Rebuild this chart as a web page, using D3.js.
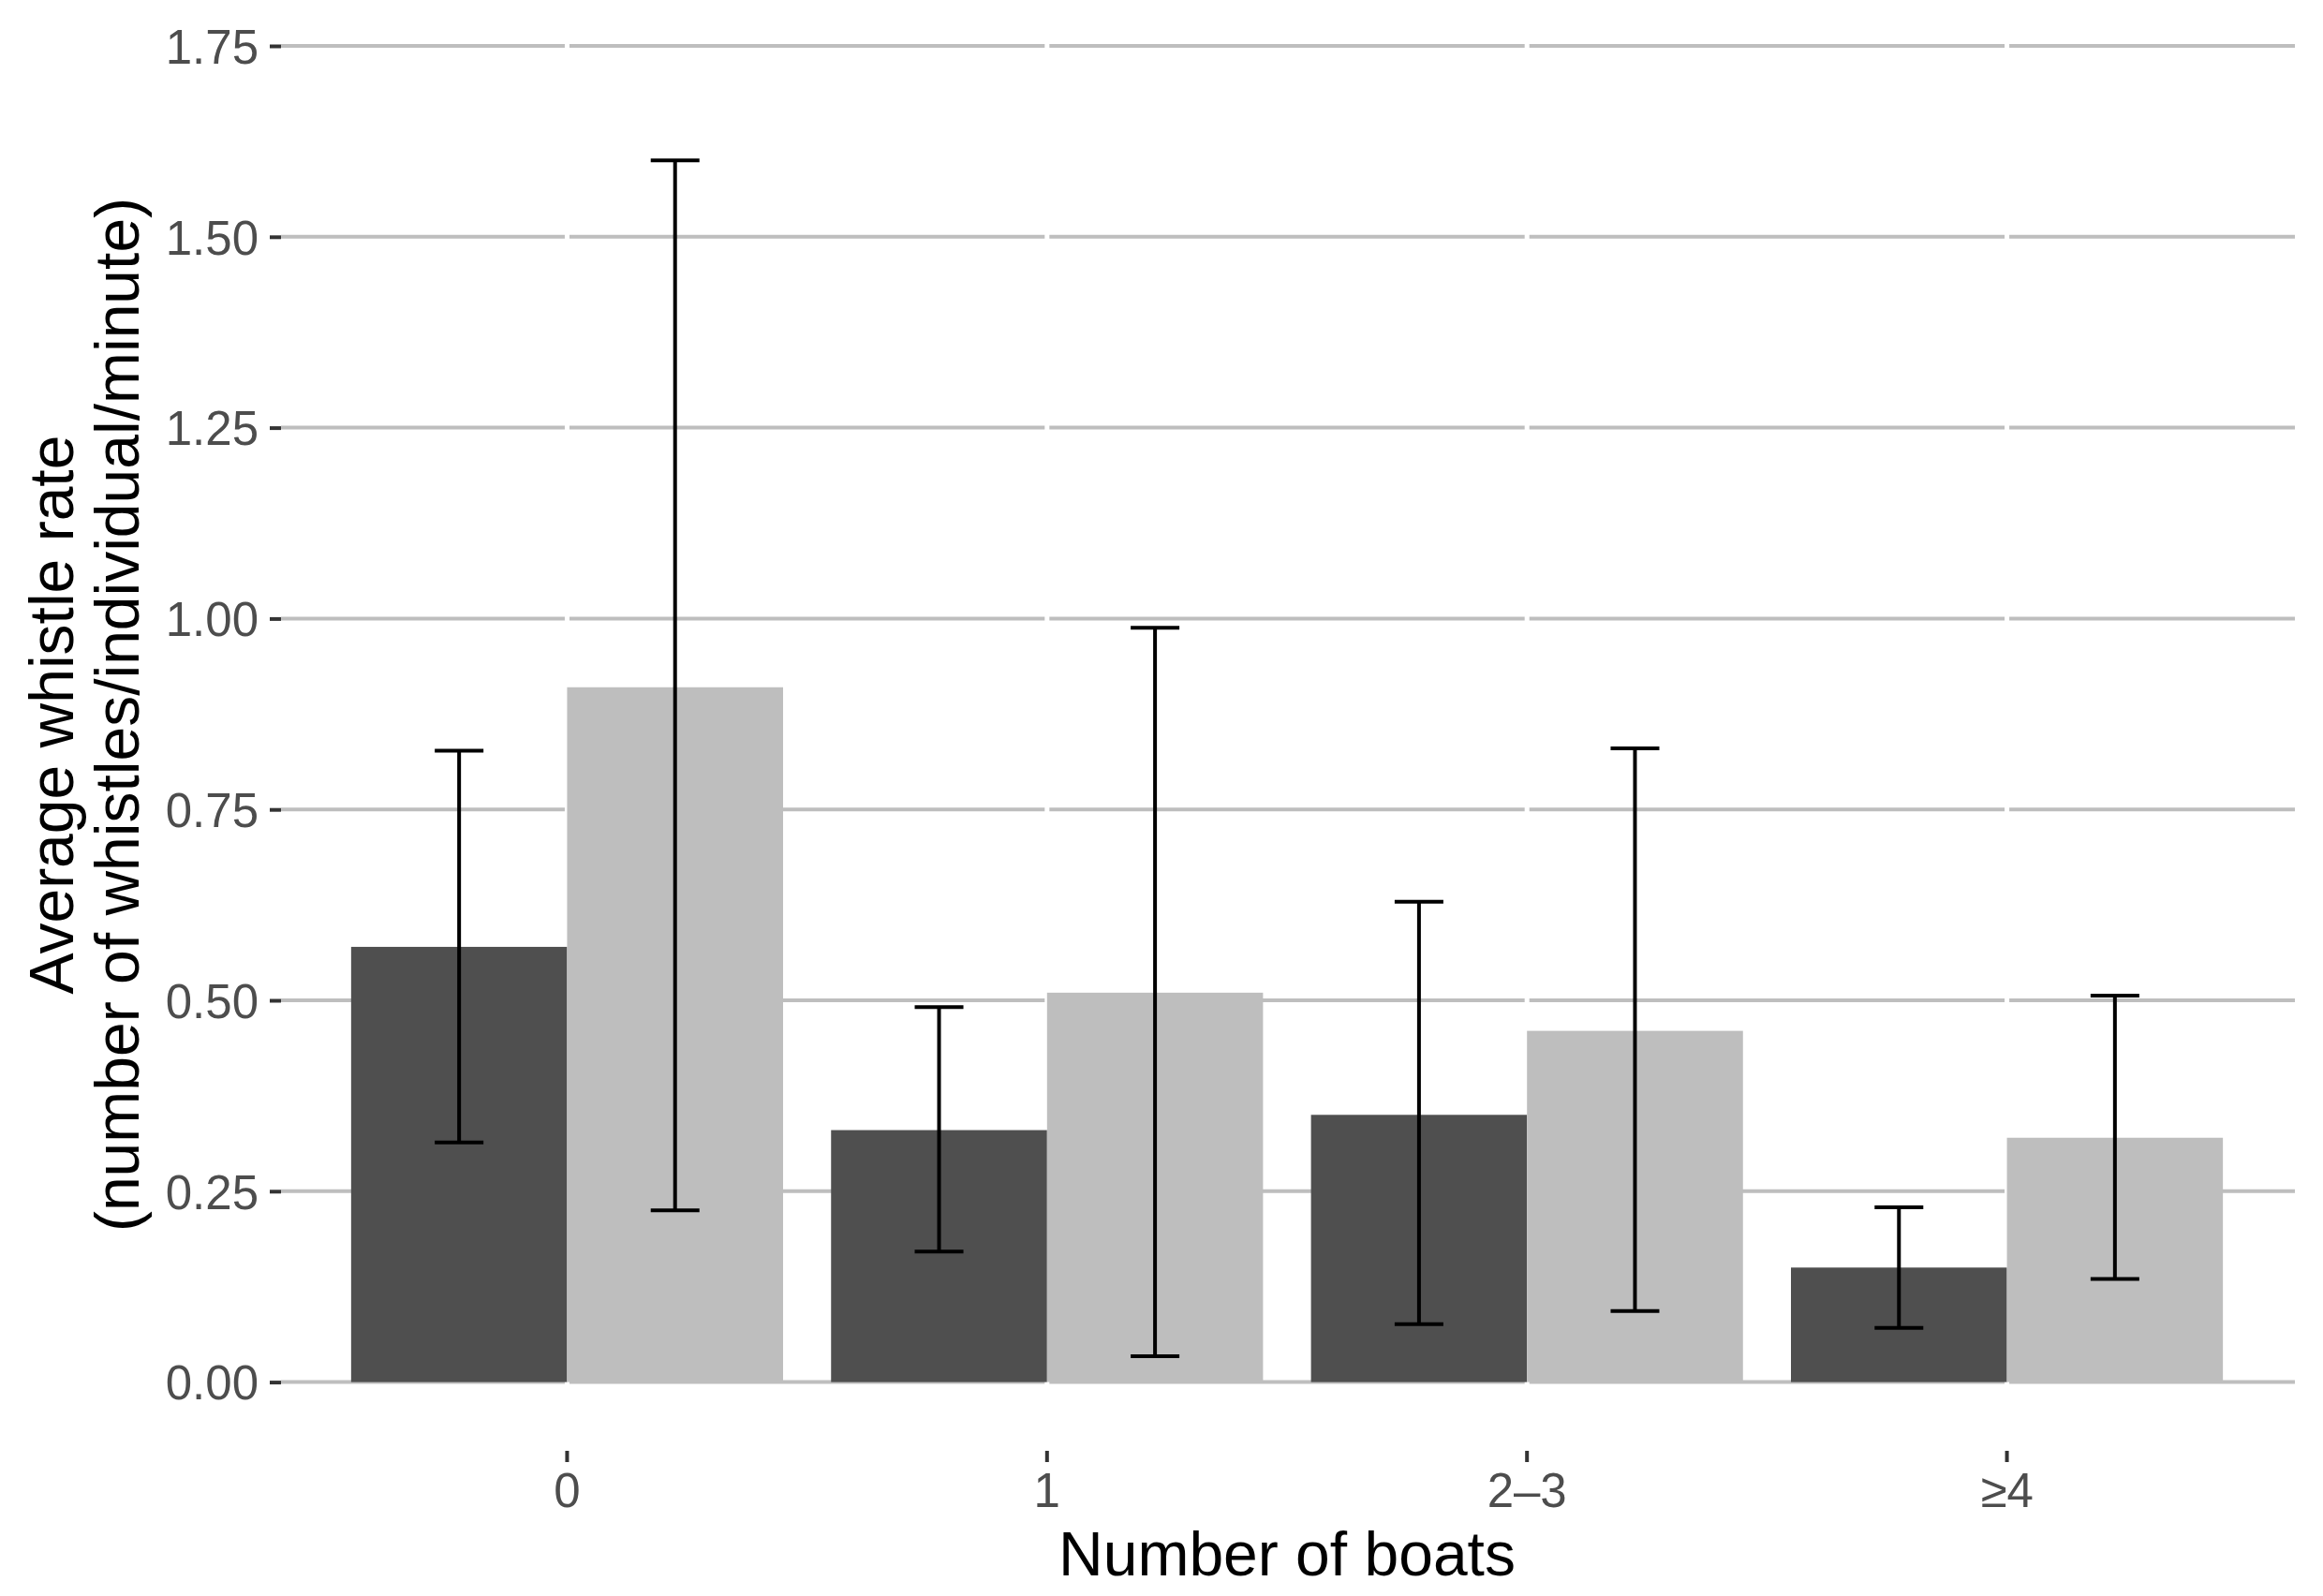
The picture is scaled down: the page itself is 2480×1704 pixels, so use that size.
<!DOCTYPE html>
<html>
<head>
<meta charset="utf-8">
<script src="https://cdn.jsdelivr.net/npm/d3@7"></script>
<style>
  html, body { margin: 0; padding: 0; background: #ffffff; }
  svg { display: block; }
  text { font-family: "Liberation Sans", Arial, Helvetica, sans-serif; }
</style>
</head>
<body>
<script>
// ---- Data ----
const categories = ["0", "1", "2\u20133", "\u22654"];
const seriesNames = ["group A", "group B"];
const meanA = [0.57, 0.33, 0.35, 0.15];
const lowA  = [0.314, 0.171, 0.076, 0.071];
const highA = [0.827, 0.491, 0.629, 0.229];
const meanB = [0.91, 0.51, 0.46, 0.32];
const lowB  = [0.225, 0.034, 0.093, 0.135];
const highB = [1.60, 0.988, 0.830, 0.506];
const yTicks = [0, 0.25, 0.5, 0.75, 1.0, 1.25, 1.5, 1.75];
const yTickLabels = ["0.00", "0.25", "0.50", "0.75", "1.00", "1.25", "1.50", "1.75"];
const xTitle = "Number of boats";
const yTitle1 = "Average whistle rate";
const yTitle2 = "(number of whistles/individual/minute)";

const rows = [];
categories.forEach((c, i) => {
  rows.push({cat: c, series: seriesNames[0], mean: meanA[i], lo: lowA[i], hi: highA[i]});
  rows.push({cat: c, series: seriesNames[1], mean: meanB[i], lo: lowB[i], hi: highB[i]});
});

// ---- Layout ----
const W = 2480, H = 1704;
const panelLeft = 298, panelRight = 2450;
const panelTop = 0, panelBottom = 1549;

const svg = d3.select("body").append("svg").attr("width", W).attr("height", H);
svg.append("rect").attr("width", W).attr("height", H).attr("fill", "#ffffff");

const x = d3.scaleBand().domain(categories).range([panelLeft, panelRight])
  .paddingInner(0.1).paddingOuter(0.15);
const xSub = d3.scaleBand().domain(seriesNames).range([0, x.bandwidth()]).padding(0);
const y = d3.scaleLinear().domain([0, 1.75]).range([1475.6, 49]);
const color = d3.scaleOrdinal().domain(seriesNames).range(["#4f4f4f", "#bebebe"]);

const xCenter = c => x(c) + x.bandwidth() / 2;

// horizontal gridlines
svg.append("g").selectAll("line").data(yTicks).join("line")
  .attr("x1", panelLeft + 2).attr("x2", panelRight)
  .attr("y1", d => y(d)).attr("y2", d => y(d))
  .attr("stroke", "#bebebe").attr("stroke-width", 4);

// white vertical major gridlines at categories
svg.append("g").selectAll("line").data(categories).join("line")
  .attr("x1", d => xCenter(d)).attr("x2", d => xCenter(d))
  .attr("y1", panelTop).attr("y2", panelBottom)
  .attr("stroke", "#ffffff").attr("stroke-width", 5);

// bars
svg.append("g").selectAll("rect").data(rows).join("rect")
  .attr("x", d => x(d.cat) + xSub(d.series))
  .attr("width", xSub.bandwidth())
  .attr("y", d => y(d.mean))
  .attr("height", d => y(0) - y(d.mean))
  .attr("fill", d => color(d.series));

// error bars
const capHalf = 26;
const eb = svg.append("g").attr("stroke", "#000000").attr("stroke-width", 4);
rows.forEach(d => {
  const cx = x(d.cat) + xSub(d.series) + xSub.bandwidth() / 2;
  eb.append("line").attr("x1", cx).attr("x2", cx).attr("y1", y(d.hi)).attr("y2", y(d.lo));
  eb.append("line").attr("x1", cx - capHalf).attr("x2", cx + capHalf).attr("y1", y(d.hi)).attr("y2", y(d.hi));
  eb.append("line").attr("x1", cx - capHalf).attr("x2", cx + capHalf).attr("y1", y(d.lo)).attr("y2", y(d.lo));
});

// y axis ticks + labels
const yAxis = d3.axisLeft(y).tickValues(yTicks)
  .tickFormat((d, i) => yTickLabels[i]).tickSize(12).tickPadding(12);
const gy = svg.append("g").attr("transform", `translate(${panelLeft + 2},0)`).call(yAxis);
gy.select(".domain").remove();
gy.selectAll(".tick line").attr("stroke", "#333333").attr("stroke-width", 4);
gy.selectAll(".tick text").attr("fill", "#4d4d4d").attr("font-size", 51)
  .attr("font-family", "Liberation Sans, Arial, sans-serif").attr("dy", "0.36em");

// x axis ticks + labels
const xAxis = d3.axisBottom(x).tickSize(12).tickPadding(8);
const gx = svg.append("g").attr("transform", `translate(0,${panelBottom})`).call(xAxis);
gx.select(".domain").remove();
gx.selectAll(".tick line").attr("stroke", "#333333").attr("stroke-width", 4);
gx.selectAll(".tick text").attr("fill", "#4d4d4d").attr("font-size", 51)
  .attr("font-family", "Liberation Sans, Arial, sans-serif").attr("dy", "0.78em");

// axis titles
svg.append("text").attr("x", (panelLeft + panelRight) / 2).attr("y", 1682)
  .attr("text-anchor", "middle").attr("font-size", 66).attr("fill", "#000000").text(xTitle);

const yt = svg.append("g").attr("transform", "translate(0,763) rotate(-90)");
yt.append("text").attr("x", 0).attr("y", 78).attr("text-anchor", "middle")
  .attr("font-size", 66).attr("fill", "#000000").text(yTitle1);
yt.append("text").attr("x", 0).attr("y", 148).attr("text-anchor", "middle")
  .attr("font-size", 66).attr("fill", "#000000").text(yTitle2);
</script>
</body>
</html>
